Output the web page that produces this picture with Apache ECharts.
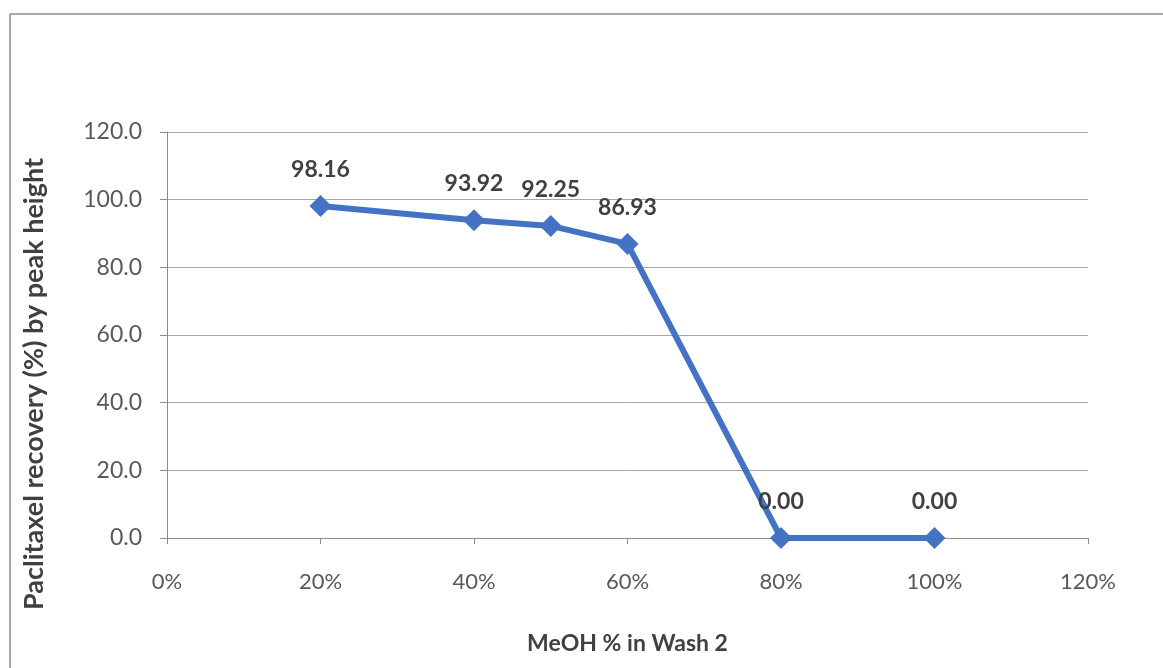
<!DOCTYPE html>
<html><head><meta charset="utf-8">
<script src="https://cdn.jsdelivr.net/npm/echarts@6/dist/echarts.min.js"></script>
<style>html,body{margin:0;padding:0;background:#fff}#c{width:1163px;height:668px}</style>
</head><body><div id="c"></div>
<script>
const meohPct = [20, 40, 50, 60, 80, 100];
const recovery = [98.16, 93.92, 92.25, 86.93, 0.00, 0.00];
const xTicks = [0, 20, 40, 60, 80, 100, 120];
const yTicks = [0, 20, 40, 60, 80, 100, 120];
const xTitle = 'MeOH % in Wash 2';
const yTitle = 'Paclitaxel recovery (%) by peak height';

const chart = echarts.init(document.getElementById('c'));
const font = 'Lato, "Open Sans", sans-serif';
chart.setOption({
  animation: false,
  backgroundColor: '#fff',
  graphic: [
    {type: 'line', shape: {x1: 10, y1: 14, x2: 1163, y2: 14}, style: {stroke: '#8c8c8c', lineWidth: 1.5}},
    {type: 'line', shape: {x1: 10, y1: 14, x2: 10, y2: 668}, style: {stroke: '#8c8c8c', lineWidth: 1.5}},
    {type: 'text', x: 34, y: 384, rotation: Math.PI / 2,
      style: {text: yTitle, fontFamily: font, fontSize: 27, fontWeight: 'bold', fill: '#404040',
        align: 'center', verticalAlign: 'middle'}}
  ],
  grid: {left: 167, right: 75, top: 132, bottom: 130},
  xAxis: {
    type: 'value', min: 0, max: 120, interval: 20,
    name: xTitle, nameLocation: 'middle', nameGap: 94,
    nameTextStyle: {fontFamily: font, fontSize: 23, fontWeight: 'bold', color: '#404040'},
    axisLine: {show: true, lineStyle: {color: '#8c8c8c', width: 1}},
    axisTick: {show: true, length: 6, inside: false, lineStyle: {color: '#8c8c8c'}},
    axisLabel: {fontFamily: font, fontSize: 22, color: '#595959', margin: 33,
      formatter: v => xTicks.includes(v) ? v + '%' : ''},
    splitLine: {show: false}
  },
  yAxis: {
    type: 'value', min: 0, max: 120, interval: 20,
    axisLine: {show: true, lineStyle: {color: '#8c8c8c', width: 1}},
    axisTick: {show: true, length: 7, lineStyle: {color: '#8c8c8c'}},
    axisLabel: {fontFamily: font, fontSize: 23, color: '#595959', margin: 25,
      formatter: v => yTicks.includes(v) ? v.toFixed(1) : ''},
    splitLine: {show: true, lineStyle: {color: '#a6a6a6', width: 1}}
  },
  series: [{
    type: 'line',
    data: meohPct.map((x, i) => [x, recovery[i]]),
    symbol: 'diamond', symbolSize: 22,
    lineStyle: {color: '#4472c4', width: 6},
    itemStyle: {color: '#4472c4'},
    label: {show: true, position: 'top', distance: 14, fontFamily: font, fontSize: 23, fontWeight: 'bold', color: '#404040',
      formatter: p => p.value[1].toFixed(2)}
  }]
});
</script></body></html>
